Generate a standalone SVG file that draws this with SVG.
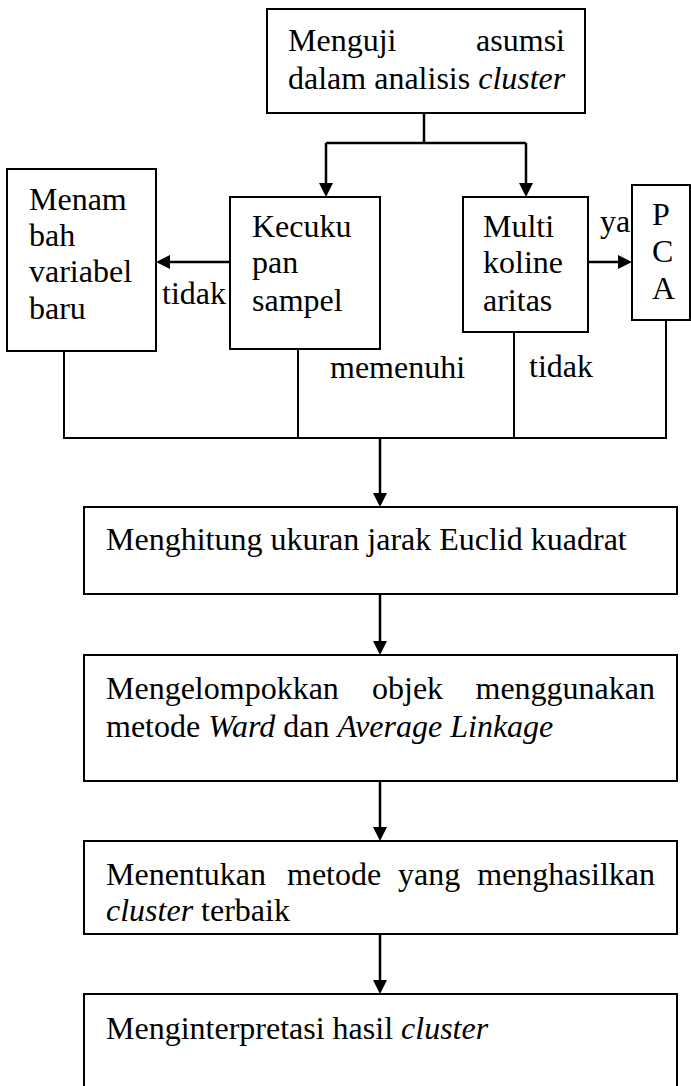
<svg xmlns="http://www.w3.org/2000/svg" width="691" height="1086" viewBox="0 0 691 1086">
  <style>
    .box { fill: #ffffff; stroke: #000000; stroke-width: 2; }
    .t { font-family: "Liberation Serif", "Times New Roman", serif; font-size: 32px; fill: #000000; }
    .it { font-style: italic; }
    .ln { fill: none; stroke: #000000; stroke-width: 2; }
    .ar { fill: none; stroke: #000000; stroke-width: 2.5; marker-end: url(#ah); }
  </style>
  <defs>
    <marker id="ah" viewBox="0 0 14 14" refX="6" refY="7" markerWidth="14" markerHeight="14" markerUnits="userSpaceOnUse" orient="auto">
      <path d="M0,0 L14,7 L0,14 z" fill="#000000"/>
    </marker>
  </defs>
  <rect width="691" height="1086" fill="#ffffff"/>

  <g id="connectors">
    <path class="ar" d="M424,113 V143 M326,143 H526 M326,143 V189"/>
    <path class="ar" d="M526,143 V189"/>
    <path class="ar" d="M230,262 H164"/>
    <path class="ar" d="M588,262 H624"/>
    <path class="ln" d="M64,351 V438 H666 V320 M298,349 V438 M514,332 V438"/>
    <path class="ar" d="M380,438 V499"/>
    <path class="ar" d="M380,594 V647"/>
    <path class="ar" d="M380,781 V833"/>
    <path class="ar" d="M380,934 V986"/>
    <text class="t" x="162" y="304">tidak</text>
    <text class="t" x="600" y="232">ya</text>
    <text class="t" x="330" y="378">memenuhi</text>
    <text class="t" x="529" y="377">tidak</text>
  </g>

  <g id="node-asumsi">
    <rect class="box" x="267" y="9" width="318" height="104"/>
    <text class="t" x="288" y="51">Menguji</text>
    <text class="t" x="565" y="51" text-anchor="end">asumsi</text>
    <text class="t" x="288" y="89">dalam analisis <tspan class="it">cluster</tspan></text>
  </g>

  <g id="node-menambah">
    <rect class="box" x="7" y="169" width="149" height="182"/>
    <text class="t" x="29" y="210">Menam</text>
    <text class="t" x="29" y="246">bah</text>
    <text class="t" x="29" y="282">variabel</text>
    <text class="t" x="29" y="319">baru</text>
  </g>

  <g id="node-kecukupan">
    <rect class="box" x="230" y="197" width="150" height="152"/>
    <text class="t" x="252" y="237">Kecuku</text>
    <text class="t" x="252" y="273">pan</text>
    <text class="t" x="252" y="311">sampel</text>
  </g>

  <g id="node-multikolinearitas">
    <rect class="box" x="463" y="197" width="125" height="135"/>
    <text class="t" x="483" y="237">Multi</text>
    <text class="t" x="483" y="273">koline</text>
    <text class="t" x="483" y="311">aritas</text>
  </g>

  <g id="node-pca">
    <rect class="box" x="632" y="185" width="58" height="135"/>
    <text class="t" x="652" y="225">P</text>
    <text class="t" x="652" y="262">C</text>
    <text class="t" x="652" y="299">A</text>
  </g>

  <g id="node-jarak">
    <rect class="box" x="84" y="507" width="593" height="87"/>
    <text class="t" x="106" y="550">Menghitung ukuran jarak Euclid kuadrat</text>
  </g>

  <g id="node-kelompok">
    <rect class="box" x="84" y="655" width="593" height="126"/>
    <text class="t" y="699"><tspan x="106">Mengelompokkan</tspan><tspan x="372">objek</tspan><tspan x="655" text-anchor="end">menggunakan</tspan></text>
    <text class="t" x="106" y="737">metode <tspan class="it">Ward</tspan> dan <tspan class="it">Average Linkage</tspan></text>
  </g>

  <g id="node-metode">
    <rect class="box" x="84" y="841" width="593" height="93"/>
    <text class="t" y="885"><tspan x="106">Menentukan</tspan><tspan x="287">metode</tspan><tspan x="398">yang</tspan><tspan x="655" text-anchor="end">menghasilkan</tspan></text>
    <text class="t" x="106" y="921"><tspan class="it">cluster</tspan> terbaik</text>
  </g>

  <g id="node-interpretasi">
    <rect class="box" x="84" y="994" width="593" height="110"/>
    <text class="t" x="106" y="1039">Menginterpretasi hasil <tspan class="it">cluster</tspan></text>
  </g>
</svg>
